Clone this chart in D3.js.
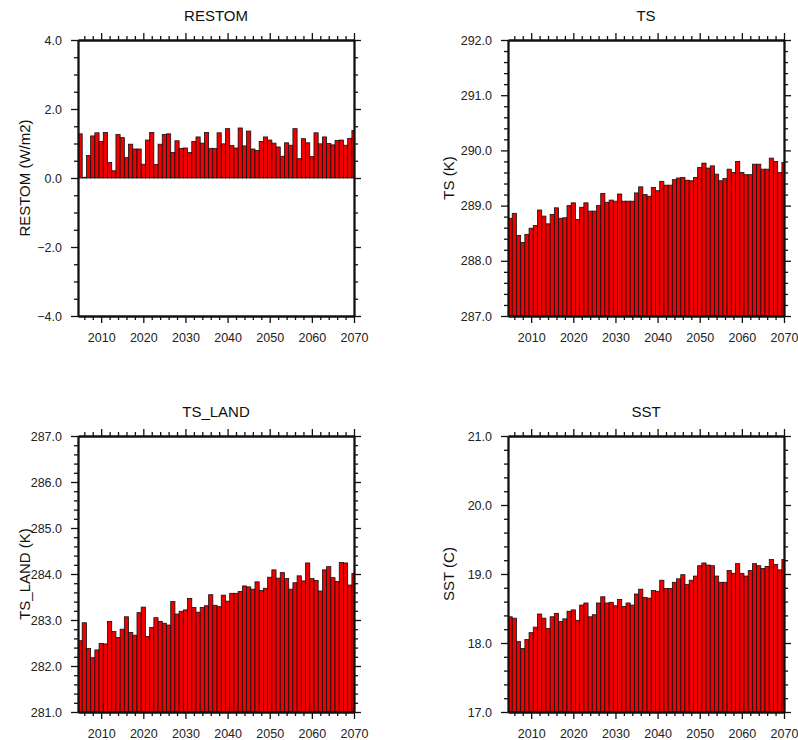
<!DOCTYPE html>
<html>
<head>
<meta charset="utf-8">
<script src="https://cdn.jsdelivr.net/npm/d3@7"></script>
<style>
	body { margin: 0; background: #fff; }
	text { font-family: "Liberation Sans", Arial, sans-serif; fill: #111; }
</style>
</head>
<body>
<script>
(function () {
	"use strict";

	// years 2005..2070, one bar each
	let years = d3.range(2005, 2071);

	let restom = [
		1.28, 0.02, 0.65, 1.22, 1.31, 1.06, 1.32, 0.45, 0.21, 1.26,
		1.17, 0.59, 0.98, 0.84, 0.84, 0.40, 1.10, 1.32, 0.39, 0.98,
		1.26, 1.28, 0.74, 1.08, 0.86, 0.87, 0.74, 1.06, 1.19, 1.01,
		1.32, 0.86, 0.86, 1.31, 0.99, 1.43, 0.94, 0.87, 1.45, 0.93,
		1.36, 0.84, 0.80, 1.06, 1.19, 1.10, 1.01, 0.90, 0.63, 1.02,
		0.95, 1.43, 0.56, 1.14, 1.02, 0.62, 1.31, 0.99, 1.19, 1.00,
		0.96, 1.09, 1.10, 0.95, 1.15, 1.38
	];

	let ts = [
		288.77, 288.86, 288.46, 288.33, 288.48, 288.59, 288.64, 288.92, 288.81, 288.67,
		288.84, 288.96, 288.77, 288.78, 289.00, 289.05, 288.75, 288.97, 289.05, 288.90,
		288.90, 289.00, 289.22, 289.06, 289.10, 289.08, 289.21, 289.08, 289.08, 289.08,
		289.23, 289.34, 289.20, 289.17, 289.33, 289.27, 289.44, 289.37, 289.37, 289.47,
		289.50, 289.51, 289.46, 289.45, 289.51, 289.69, 289.77, 289.68, 289.72, 289.57,
		289.45, 289.49, 289.66, 289.60, 289.80, 289.60, 289.56, 289.56, 289.75, 289.75,
		289.66, 289.66, 289.86, 289.80, 289.60, 289.78
	];

	let tsLand = [
		282.55, 282.94, 282.38, 282.18, 282.35, 282.49, 282.48, 282.97, 282.75, 282.62,
		282.80, 283.07, 282.73, 282.67, 283.16, 283.28, 282.64, 282.84, 283.05, 282.97,
		282.93, 282.89, 283.40, 283.13, 283.19, 283.22, 283.47, 283.27, 283.17, 283.27,
		283.31, 283.55, 283.32, 283.29, 283.54, 283.41, 283.58, 283.58, 283.62, 283.74,
		283.72, 283.67, 283.83, 283.64, 283.69, 283.93, 284.09, 283.91, 284.03, 283.90,
		283.67, 283.81, 283.96, 283.85, 284.24, 283.90, 283.86, 283.63, 284.09, 284.16,
		283.92, 283.84, 284.25, 284.24, 283.76, 284.01
	];

	let sst = [
		18.38, 18.36, 18.02, 17.92, 18.05, 18.15, 18.23, 18.42, 18.36, 18.21,
		18.38, 18.43, 18.31, 18.35, 18.46, 18.48, 18.33, 18.55, 18.58, 18.38,
		18.41, 18.58, 18.67, 18.58, 18.59, 18.54, 18.63, 18.53, 18.58, 18.55,
		18.71, 18.78, 18.66, 18.65, 18.76, 18.75, 18.91, 18.79, 18.79, 18.88,
		18.93, 18.99, 18.85, 18.91, 18.97, 19.12, 19.16, 19.13, 19.12, 18.97,
		18.88, 18.88, 19.05, 19.01, 19.15, 19.01, 18.97, 19.05, 19.15, 19.12,
		19.08, 19.11, 19.21, 19.14, 19.06, 19.21
	];

	let xTicks = [2010, 2020, 2030, 2040, 2050, 2060, 2070];
	let restomTicks = [-4, -2, 0, 2, 4];
	let tsTicks = [287, 288, 289, 290, 291, 292];
	let tsLandTicks = [281, 282, 283, 284, 285, 286, 287];
	let sstTicks = [17, 18, 19, 20, 21];

	let panels = [
		{ title: 'RESTOM', label: 'RESTOM (W/m2)', values: restom, ticks: restomTicks, minor: 0.5, base: 0, x0: 78, y0: 40, lx: 29.5 },
		{ title: 'TS', label: 'TS (K)', values: ts, ticks: tsTicks, minor: 0.2, base: 287, x0: 508, y0: 40, lx: 454 },
		{ title: 'TS_LAND', label: 'TS_LAND (K)', values: tsLand, ticks: tsLandTicks, minor: 0.2, base: 281, x0: 78, y0: 436, lx: 29.5 },
		{ title: 'SST', label: 'SST (C)', values: sst, ticks: sstTicks, minor: 0.2, base: 17, x0: 508, y0: 436, lx: 454 }
	];

	let w = 798;
	let h = 740;
	let size = 276;

	let svg = d3.select('body').append('svg').attr('width', w).attr('height', h);
	let fmt = d3.format('.1f');

	panels.forEach(function (p, i) {
		let ymin = p.ticks[0];
		let ymax = p.ticks[p.ticks.length - 1];

		let x = d3.scaleLinear().domain([2004.5, 2070]).range([p.x0, p.x0 + size]);
		let y = d3.scaleLinear().domain([ymin, ymax]).range([p.y0 + size, p.y0]);

		let xMinor = d3.range(2006, 2071, 2).filter((d) => d % 10 != 0);
		let yMinor = d3.range(ymin, ymax + 1e-6, p.minor).filter(function (d) {
			return !p.ticks.some((t) => Math.abs(t - d) < 1e-6);
		});

		let clipId = 'clip' + i;
		svg.append('clipPath').attr('id', clipId)
			.append('rect')
			.attr('x', p.x0).attr('y', p.y0)
			.attr('width', size).attr('height', size);

		svg.append('g')
			.attr('clip-path', 'url(#' + clipId + ')')
			.selectAll('rect')
			.data(p.values)
			.enter()
			.append('rect')
			.attr('x', (d, j) => x(years[j] - 0.5))
			.attr('width', (d, j) => x(years[j] + 0.5) - x(years[j] - 0.5))
			.attr('y', (d) => y(Math.max(d, p.base)))
			.attr('height', (d) => Math.abs(y(d) - y(p.base)))
			.style('fill', '#f00000')
			.style('stroke', '#111')
			.style('stroke-width', 0.8);

		// axes, major and minor, on all four sides
		let axes = [
			{ a: d3.axisBottom(x).tickValues(xTicks).tickFormat(d3.format('d')), t: 'translate(0,' + (p.y0 + size) + ')', len: 7, pad: 10, lab: true },
			{ a: d3.axisBottom(x).tickValues(xMinor).tickFormat(''), t: 'translate(0,' + (p.y0 + size) + ')', len: 4 },
			{ a: d3.axisTop(x).tickValues(xTicks).tickFormat(''), t: 'translate(0,' + p.y0 + ')', len: 7 },
			{ a: d3.axisTop(x).tickValues(xMinor).tickFormat(''), t: 'translate(0,' + p.y0 + ')', len: 4 },
			{ a: d3.axisLeft(y).tickValues(p.ticks).tickFormat(fmt), t: 'translate(' + p.x0 + ',0)', len: 7, pad: 9, lab: true },
			{ a: d3.axisLeft(y).tickValues(yMinor).tickFormat(''), t: 'translate(' + p.x0 + ',0)', len: 4 },
			{ a: d3.axisRight(y).tickValues(p.ticks).tickFormat(''), t: 'translate(' + (p.x0 + size) + ',0)', len: 7 },
			{ a: d3.axisRight(y).tickValues(yMinor).tickFormat(''), t: 'translate(' + (p.x0 + size) + ',0)', len: 4 }
		];

		axes.forEach(function (ax) {
			let g = svg.append('g')
				.attr('transform', ax.t)
				.call(ax.a.tickSizeInner(ax.len).tickSizeOuter(0).tickPadding(ax.pad || 0));
			g.select('.domain').style('stroke', '#111').style('stroke-width', 1.8);
			g.selectAll('.tick line').style('stroke', '#111').style('stroke-width', 1.3);
			g.selectAll('.tick text').style('font-size', '12.5px').style('fill', '#222')
				.style('font-family', '"Liberation Sans", Arial, sans-serif');
		});

		svg.append('text')
			.attr('x', p.x0 + size / 2)
			.attr('y', p.y0 - 19)
			.attr('text-anchor', 'middle')
			.style('font-size', '15px')
			.text(p.title);

		svg.append('text')
			.attr('transform', 'translate(' + p.lx + ',' + (p.y0 + size / 2) + ') rotate(-90)')
			.attr('text-anchor', 'middle')
			.style('font-size', '15px')
			.text(p.label);
	});

})();
</script>
</body>
</html>
